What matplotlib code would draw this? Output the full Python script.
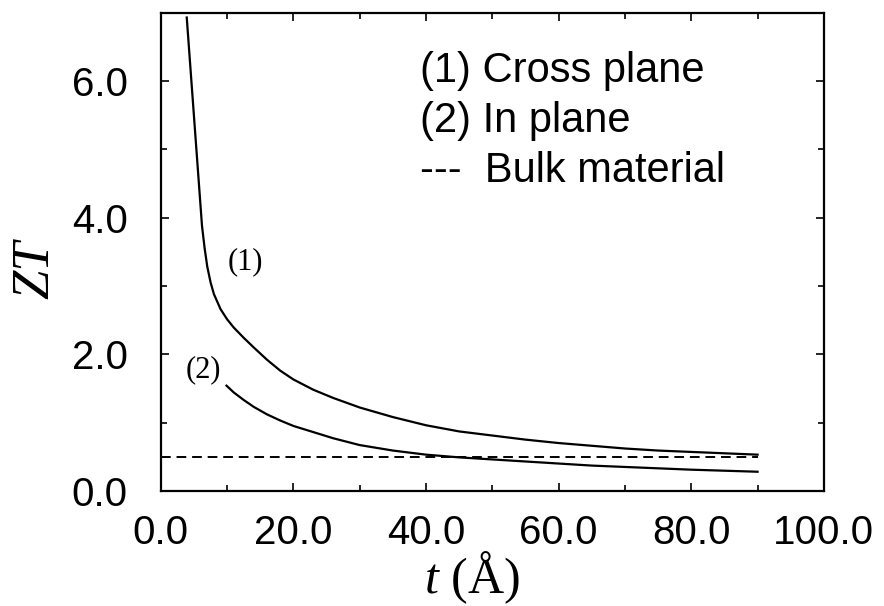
import matplotlib
matplotlib.use('Agg')
import matplotlib.pyplot as plt
from matplotlib.ticker import MultipleLocator, FormatStrFormatter

plt.rcParams['font.family'] = 'Liberation Sans'
plt.rcParams['mathtext.fontset'] = 'custom'
plt.rcParams['mathtext.it'] = 'Liberation Serif:italic'
plt.rcParams['mathtext.rm'] = 'Liberation Serif'

# (1) cross plane
t_cross = [3.9, 5.0, 6.2, 6.6, 7.0, 7.5, 8.0, 9.0, 10.0, 11.0, 12.5, 14.0, 16.0, 18.0,
           20.0, 23.0, 26.0, 30.0, 35.0, 40.0, 45.0, 50.0, 55.0, 60.0, 65.0, 70.0,
           75.0, 80.0, 85.0, 90.0]
zt_cross = [6.93, 5.47, 3.88, 3.55, 3.28, 3.05, 2.88, 2.66, 2.51, 2.39, 2.24, 2.10, 1.92,
            1.76, 1.63, 1.48, 1.36, 1.22, 1.08, 0.96, 0.87, 0.81, 0.75, 0.70, 0.66,
            0.62, 0.59, 0.57, 0.55, 0.53]

# (2) in plane
t_in = [9.9, 11.0, 12.5, 14.0, 16.0, 18.0, 20.0, 23.0, 26.0, 30.0, 35.0, 40.0, 45.0,
        50.0, 55.0, 60.0, 65.0, 70.0, 75.0, 80.0, 85.0, 90.0]
zt_in = [1.54, 1.44, 1.33, 1.23, 1.12, 1.03, 0.95, 0.86, 0.77, 0.67, 0.59, 0.53, 0.49,
         0.46, 0.43, 0.40, 0.37, 0.35, 0.33, 0.31, 0.295, 0.28]

# bulk material
t_bulk = [0.0, 90.0]
zt_bulk = [0.5, 0.5]

legend_lines = ['(1) Cross plane', '(2) In plane', '---  Bulk material']

fig = plt.figure(figsize=(8.84, 6.06), dpi=100)
ax = fig.add_axes([0.182, 0.19, 0.75, 0.789])

ax.plot(t_cross, zt_cross, color='black', linewidth=1.6)
ax.plot(t_in, zt_in, color='black', linewidth=1.6)
ax.plot(t_bulk, zt_bulk, color='black', linewidth=1.4, linestyle=(0, (5, 3)))

ax.set_xlim(0, 100)
ax.set_ylim(0, 7)
ax.xaxis.set_major_locator(MultipleLocator(20))
ax.xaxis.set_minor_locator(MultipleLocator(10))
ax.yaxis.set_major_locator(MultipleLocator(2))
ax.yaxis.set_minor_locator(MultipleLocator(1))
ax.xaxis.set_major_formatter(FormatStrFormatter('%.1f'))
ax.yaxis.set_major_formatter(FormatStrFormatter('%.1f'))

ax.tick_params(which='both', direction='in', top=True, right=True, width=1.2)
ax.tick_params(which='major', length=6)
ax.tick_params(which='minor', length=4)
ax.tick_params(axis='x', which='major', labelsize=29, pad=17)
ax.tick_params(axis='y', which='major', labelsize=29, pad=24)
for s in ax.spines.values():
    s.set_linewidth(1.6)

# curve labels
ax.text(12.8, 3.36, '(1)', family='Liberation Serif', fontsize=22,
        ha='center', va='center')
ax.text(6.4, 1.78, '(2)', family='Liberation Serif', fontsize=22,
        ha='center', va='center')

# legend text
for txt, yb in zip(legend_lines, [5.99, 5.26, 4.52]):
    ax.text(39.1, yb, txt, fontsize=30, ha='left', va='baseline')

fig.text(35 / 884, 1 - 270 / 606, 'ZT', family='Liberation Serif', style='italic',
         fontsize=38, rotation=90, ha='center', va='center')
fig.text(472 / 884, 1 - 578 / 606, r'$t$ (Å)', family='Liberation Serif',
         fontsize=36, ha='center', va='center')

fig.savefig('out.png', dpi=100)
